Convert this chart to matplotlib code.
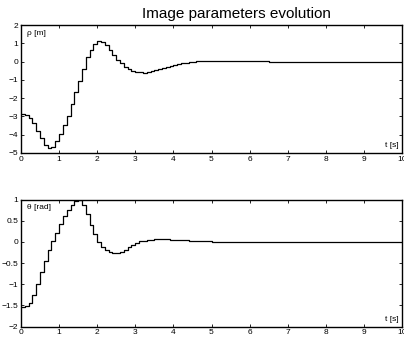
import numpy as np
import matplotlib
matplotlib.use("Agg")
import matplotlib.pyplot as plt

plt.rcParams['font.family'] = ['Liberation Sans', 'DejaVu Sans']

# sampled every 0.1 s (zero-order hold), 0 .. 10 s
rho = [-2.85, -2.9, -3.1, -3.35, -3.8, -4.2, -4.55, -4.7, -4.65, -4.35,
       -3.95, -3.45, -2.95, -2.3, -1.65, -1.05, -0.4, 0.25, 0.65, 0.95,
       1.1, 1.05, 0.88, 0.65, 0.38, 0.1, -0.1, -0.3, -0.42, -0.5,
       -0.55, -0.58, -0.6, -0.58, -0.54, -0.48, -0.42, -0.36, -0.3, -0.24,
       -0.19, -0.14, -0.1, -0.06, -0.03, -0.01, 0.01, 0.02, 0.03, 0.04,
       0.04, 0.04, 0.04, 0.035, 0.03, 0.03, 0.025, 0.02, 0.02, 0.015,
       0.01, 0.01, 0.01, 0.005, 0.005, 0.0, 0.0, 0.0, 0.0, 0.0,
       0.0, 0.0, 0.0, 0.0, 0.0, 0.0, 0.0, 0.0, 0.0, 0.0,
       0.0, 0.0, 0.0, 0.0, 0.0, 0.0, 0.0, 0.0, 0.0, 0.0,
       0.0, 0.0, 0.0, 0.0, 0.0, 0.0, 0.0, 0.0, 0.0, 0.0,
       0.0]

theta = [-1.55, -1.52, -1.45, -1.25, -1.0, -0.72, -0.45, -0.2, 0.02, 0.22,
         0.42, 0.6, 0.76, 0.88, 0.97, 1.0, 0.88, 0.65, 0.4, 0.18,
         0.0, -0.12, -0.2, -0.25, -0.27, -0.26, -0.24, -0.19, -0.13, -0.07,
         -0.02, 0.01, 0.03, 0.045, 0.055, 0.06, 0.065, 0.065, 0.06, 0.055,
         0.05, 0.045, 0.04, 0.035, 0.03, 0.025, 0.02, 0.015, 0.01, 0.01,
         0.005, 0.005, 0.0, 0.0, 0.0, 0.0, 0.0, 0.0, 0.0, 0.0,
         0.0, 0.0, 0.0, 0.0, 0.0, 0.0, 0.0, 0.0, 0.0, 0.0,
         0.0, 0.0, 0.0, 0.0, 0.0, 0.0, 0.0, 0.0, 0.0, 0.0,
         0.0, 0.0, 0.0, 0.0, 0.0, 0.0, 0.0, 0.0, 0.0, 0.0,
         0.0, 0.0, 0.0, 0.0, 0.0, 0.0, 0.0, 0.0, 0.0, 0.0,
         0.0]

t = np.arange(len(rho)) * 0.1

x_ticks = [0, 1, 2, 3, 4, 5, 6, 7, 8, 9, 10]
rho_ticks = [-5, -4, -3, -2, -1, 0, 1, 2]
theta_ticks = [-2, -1.5, -1, -0.5, 0, 0.5, 1]


def fmt(v):
    return ('%g' % v).replace('-', '\u2212')


def style(ax, yticks, ylabel_txt):
    ax.set_xlim(0, 10)
    ax.set_xticks(x_ticks)
    ax.set_xticklabels([fmt(v) for v in x_ticks])
    ax.set_yticks(yticks)
    ax.set_yticklabels([fmt(v) for v in yticks])
    ax.tick_params(direction='in', top=True, right=True, length=2.5,
                   width=0.6, labelsize=6, pad=2)
    for s in ax.spines.values():
        s.set_linewidth(1.0)
    ax.text(0.015, 0.935, ylabel_txt, transform=ax.transAxes,
            fontsize=6, va='center', ha='left')
    ax.text(0.992, 0.055, 't [s]', transform=ax.transAxes,
            fontsize=6, va='center', ha='right')


fig = plt.figure(figsize=(4.04, 3.40), dpi=100)

ax1 = fig.add_axes([21 / 404, 1 - 153 / 340, 381 / 404, 128 / 340])
ax1.step(t, rho, where='post', color='black', lw=0.9)
ax1.set_ylim(-5, 2)
style(ax1, rho_ticks, '\u03c1 [m]')

ax2 = fig.add_axes([21 / 404, 1 - 326.5 / 340, 381 / 404, 127 / 340])
ax2.step(t, theta, where='post', color='black', lw=0.9)
ax2.set_ylim(-2, 1)
style(ax2, theta_ticks, '\u03b8 [rad]')

fig.text(236 / 404, 1 - 18.3 / 340, 'Image parameters evolution',
         ha='center', va='baseline', fontsize=11)

fig.savefig('out.png', dpi=100)
